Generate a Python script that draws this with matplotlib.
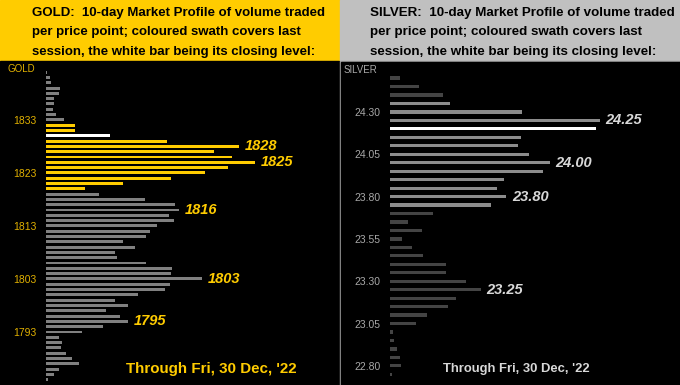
import numpy as np
import matplotlib
matplotlib.use("Agg")
import matplotlib.pyplot as plt
from matplotlib.patches import Rectangle

plt.rcParams['font.family'] = ['Liberation Sans', 'DejaVu Sans']

# ---- data (volume in arbitrary units) ----
gold_prices = np.arange(1842, 1783, -1)
gold_volume = [1, 4, 5, 14, 13, 8, 8, 7, 10, 18,
               29, 29, 64, 121, 193, 168, 186, 209, 182, 159,
               125, 77, 39, 53, 99, 129, 133, 123, 128, 111,
               104, 100, 77, 89, 69, 71, 100, 126, 125, 156,
               124, 119, 92, 69, 82, 60, 74, 82, 57, 36,
               13, 16, 15, 20, 26, 33, 13, 8, 2]
gold_session = (1820, 1832)
gold_close = 1830
gold_marked = [1828, 1825, 1816, 1803, 1795]
gold_ticks = [1793, 1803, 1813, 1823, 1833]

silver_prices = np.round(np.arange(24.50, 22.74, -0.05), 2)
silver_volume = [10, 29, 54, 61, 134, 213, 209, 133, 130, 141,
                 162, 155, 116, 108, 118, 102, 44, 18, 32, 12,
                 22, 33, 57, 57, 77, 92, 67, 59, 38, 26,
                 3, 4, 7, 10, 11, 2]
silver_session = (23.75, 24.35)
silver_close = 24.20
silver_marked = [24.25, 24.00, 23.80, 23.25]
silver_ticks = [22.80, 23.05, 23.30, 23.55, 23.80, 24.05, 24.30]

title_lines = ["10-day Market Profile of volume traded",
               "per price point; coloured swath covers last",
               "session, the white bar being its closing level:"]
footer = "Through Fri, 30 Dec, '22"

GOLD = '#FFCC00'
W, H = 680, 385
HDR = 61  # header height in px

fig = plt.figure(figsize=(6.8, 3.85), dpi=100)
fig.patch.set_facecolor('white')


def fx(px):
    return px / W


def fy(py):
    return 1 - py / H


def panel(x0, y0, w, h, col):
    fig.patches.append(Rectangle((fx(x0), fy(y0 + h)), w / W, h / H,
                                 transform=fig.transFigure, color=col, zorder=-5))


# panel backgrounds
panel(0, 0, 340, HDR, GOLD)
panel(340, 0, 340, HDR, '#C0C0C0')
panel(0, HDR, 339, H - HDR, 'black')
panel(340, HDR, 340, H - HDR, '#A0A0A0')
panel(341, HDR + 1, 339, H - HDR - 1, 'black')

# headers
for i, line in enumerate(title_lines):
    y = fy(13 + 19.5 * i)
    fig.text(fx(32), y, ("GOLD:  " + line) if i == 0 else line, fontsize=9.5,
             fontweight='bold', va='center', ha='left', color='black')
    fig.text(fx(370), y, ("SILVER:  " + line) if i == 0 else line, fontsize=9.6,
             fontweight='bold', va='center', ha='left', color='black')

fig.text(fx(7), fy(69), "GOLD", fontsize=7, color='#E0B000', va='center')
fig.text(fx(344), fy(70), "SILVER", fontsize=7, color='#A8A8A8', va='center')


def profile(ax, prices, volume, session, close, marked, ticks, ylim,
            swath_col, rest_col, lab_col, tick_col, height, fmt):
    colors = []
    for p in prices:
        if abs(p - close) < 1e-6:
            colors.append('white')
        elif session[0] - 1e-6 <= p <= session[1] + 1e-6:
            colors.append(swath_col)
        else:
            colors.append(rest_col)
    ax.barh(prices, volume, height=height, color=colors, linewidth=0)
    for m in marked:
        i = int(np.argmin(np.abs(prices - m)))
        ax.annotate(fmt.format(m), (volume[i], prices[i]), xytext=(4, 0),
                    textcoords='offset points', va='center', ha='left',
                    fontsize=10.5, fontweight='bold', fontstyle='italic',
                    color=lab_col)
    ax.set_facecolor('none')
    ax.set_xlim(0, 292)
    ax.set_ylim(*ylim)
    ax.set_yticks(ticks)
    ax.set_yticklabels([fmt.format(t) for t in ticks])
    ax.set_xticks([])
    ax.tick_params(axis='y', length=0, pad=7, labelsize=7.5, labelcolor=tick_col)
    for s in ax.spines.values():
        s.set_visible(False)


axg = fig.add_axes([fx(46), 0, fx(292), fy(HDR)])
profile(axg, gold_prices, gold_volume, gold_session, gold_close, gold_marked,
        gold_ticks, (1783.0, 1844.1), GOLD, '#808080', GOLD, '#E0B000', 0.55, "{:.0f}")

axs = fig.add_axes([fx(390), 0, fx(288), fy(HDR)])
profile(axs, silver_prices, silver_volume, silver_session, silver_close, silver_marked,
        silver_ticks, (22.687, 24.601), '#8C8C8C', '#444444', '#D8D8D8', '#A8A8A8',
        0.019, "{:.2f}")

fig.text(fx(126), fy(369), footer, fontsize=10.9, fontweight='bold', color=GOLD, va='center')
fig.text(fx(443), fy(369), footer, fontsize=9.4, fontweight='bold', color='#D8D8D8', va='center')

fig.savefig('out.png', dpi=100, facecolor=fig.get_facecolor())
